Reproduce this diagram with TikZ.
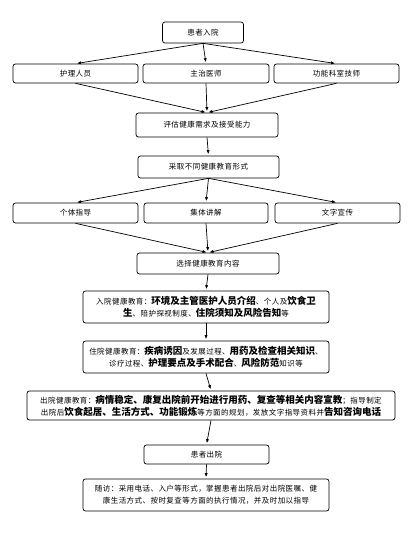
\documentclass[tikz,border=0pt]{standalone}
\usepackage{fontspec}
\setmainfont{Noto Sans CJK SC}
\newfontfamily\cjkn{Noto Sans CJK SC}[LetterSpace=6]
\usetikzlibrary{arrows.meta}
\newcommand\hb[1]{{\rmfamily\bfseries\fontsize{9.5bp}{12bp}\selectfont #1}}
\begin{document}
\begin{tikzpicture}[x=1bp,y=-1bp,
  box/.style={draw=black,line width=0.7bp,rounded corners=2.5bp,align=center,inner sep=1bp,
    font=\cjkn\fontsize{7.5bp}{12bp}\selectfont},
  arr/.style={-{Latex[length=4bp,width=3.2bp]},line width=0.7bp,shorten >=1.5bp}]
\useasboundingbox (0,0) rectangle (411,538);
\node[box,minimum width=81bp,minimum height=21bp] (top) at (203,32.5) {患者入院};
\node[box,minimum width=125bp,minimum height=19bp] (nurse) at (75.5,73.5) {护理人员};
\node[box,minimum width=126bp,minimum height=19bp] (doc) at (206,73.5) {主治医师};
\node[box,minimum width=125bp,minimum height=19bp] (tech) at (336.5,73.5) {功能科室技师};
\node[box,minimum width=142bp,minimum height=24bp] (eval) at (207,125) {评估健康需求及接受能力};
\node[box,minimum width=141bp,minimum height=22bp] (form) at (208.5,167) {采取不同健康教育形式};
\node[box,minimum width=125bp,minimum height=20bp] (indiv) at (75.5,213) {个体指导};
\node[box,minimum width=124bp,minimum height=20bp] (group) at (206,213) {集体讲解};
\node[box,minimum width=125bp,minimum height=20bp] (text) at (337.5,213) {文字宣传};
\node[box,minimum width=142bp,minimum height=21bp] (content) at (208,263.5) {选择健康教育内容};
\node[box,minimum width=246bp,minimum height=32bp] (adm) at (206,307)
  {入院健康教育：\hb{环境及主管医护人员介绍}、个人及\hb{饮食卫}\\\hb{生}、陪护探视制度、\hb{住院须知及风险告知}等};
\node[box,minimum width=246bp,minimum height=32bp] (stay) at (206,357)
  {住院健康教育：\hb{疾病诱因}及发展过程、\hb{用药及检查相关知识}、\\诊疗过程、\hb{护理要点及手术配合}、\hb{风险防范}知识等};
\node[box,minimum width=368bp,minimum height=29bp] (out) at (211,405.5)
  {出院健康教育：\hb{病情稳定、康复出院前开始进行用药、复查等相关内容宣教}；指导制定\\出院后\hb{饮食起居、生活方式、功能锻炼}等方面的规划，发放文字指导资料并\hb{告知咨询电话}};
\node[box,minimum width=125bp,minimum height=19bp] (dis) at (206.5,454.5) {患者出院};
\node[box,minimum width=246bp,minimum height=32bp] (fol) at (206,495)
  {随访：采用电话、入户等形式，掌握患者出院后对出院医嘱、健\\康生活方式、按时复查等方面的执行情况，并及时加以指导};
\draw[arr] (top.south) -- (nurse.north);
\draw[arr] (top.south) -- (doc.north);
\draw[arr] (top.south) -- (tech.north);
\draw[arr] (nurse.south) -- (eval.north);
\draw[arr] (doc.south) -- (eval.north);
\draw[arr] (tech.south) -- (eval.north);
\draw[arr] (eval.south) -- (form.north);
\draw[arr] (form.south) -- (indiv.north);
\draw[arr] (form.south) -- (group.north);
\draw[arr] (form.south) -- (text.north);
\draw[arr] (indiv.south) -- (content.north);
\draw[arr] (group.south) -- (content.north);
\draw[arr] (text.south) -- (content.north);
\draw[arr] (content.south) -- (adm.north);
\draw[arr] (adm.south) -- (stay.north);
\draw[arr] (stay.south) -- (out.north);
\draw[arr] (out.south) -- (dis.north);
\draw[arr] (dis.south) -- (fol.north);
\end{tikzpicture}
\end{document}
